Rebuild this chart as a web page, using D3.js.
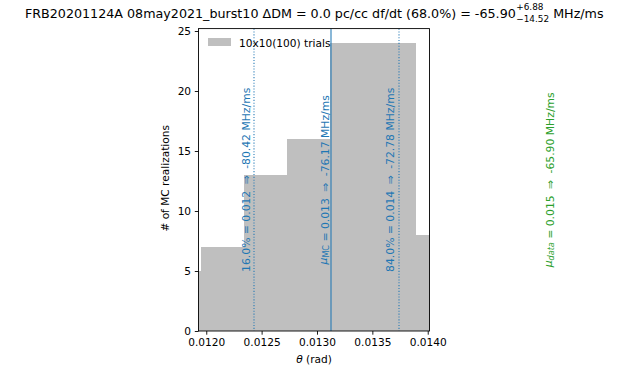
<!DOCTYPE html>
<html>
<head>
<meta charset="utf-8">
<script src="https://cdn.jsdelivr.net/npm/d3@7"></script>
<style>
  body { margin: 0; background: #fff; }
  svg text { font-family: "DejaVu Sans", sans-serif; fill: #000; white-space: pre; }
</style>
</head>
<body>
<div id="chart"></div>
<script>
// histogram of theta over MC realizations
var binEdges = [0.011567, 0.011955, 0.012343, 0.012731, 0.013119, 0.013508, 0.013896, 0.014284];
var binCounts = [5, 7, 13, 16, 24, 24, 8];

// quantile markers
var markerNames = ["16.0%", "mu", "84.0%"];
var markerTheta = [0.012427, 0.013122, 0.013736];
var markerRate = [-80.42, -76.17, -72.78];
var dataTheta = 0.01516;
var dataRate = -65.90;

var xTicks = [0.0120, 0.0125, 0.0130, 0.0135, 0.0140];
var yTicks = [0, 5, 10, 15, 20, 25];

var svgWidth = 627;
var svgHeight = 374;

// plot area in pixels
var margin = { top: 28.6, left: 198.5, right: 197.5, bottom: 43 };
var width = svgWidth - margin.left - margin.right;
var height = svgHeight - margin.top - margin.bottom;

var blue = "#1f77b4";
var green = "#2ca02c";
var fs = 10.6;
var lfs = 10.8;

// plain hyphen for negatives, like the original
var locale = d3.formatLocale({ decimal: ".", thousands: ",", grouping: [3], currency: ["", ""], minus: "-" });
var f3 = locale.format(".3f");
var f2 = locale.format(".2f");

var svg = d3.select("#chart").append("svg")
  .attr("width", svgWidth)
  .attr("height", svgHeight);

var chartGroup = svg.append("g")
  .attr("transform", `translate(${margin.left}, ${margin.top})`);

var xScale = d3.scaleLinear().domain([0.01193, 0.014016]).range([0, width]);
var yScale = d3.scaleLinear().domain([0, 25.2]).range([height, 0]);

svg.append("defs").append("clipPath").attr("id", "clip")
  .append("rect").attr("width", width).attr("height", height);

var plot = chartGroup.append("g").attr("clip-path", "url(#clip)");

// bars
plot.selectAll("rect.bar")
  .data(binCounts)
  .enter()
  .append("rect")
  .attr("class", "bar")
  .attr("x", (d, i) => xScale(binEdges[i]))
  .attr("width", (d, i) => xScale(binEdges[i + 1]) - xScale(binEdges[i]))
  .attr("y", d => yScale(d))
  .attr("height", d => yScale(0) - yScale(d))
  .attr("fill", "#bfbfbf")
  .attr("shape-rendering", "crispEdges");

// marker lines
plot.selectAll("line.marker")
  .data(markerTheta)
  .enter()
  .append("line")
  .attr("x1", d => Math.round(xScale(d)) + 0.5)
  .attr("x2", d => Math.round(xScale(d)) + 0.5)
  .attr("y1", 0)
  .attr("y2", height)
  .attr("stroke", blue)
  .attr("stroke-width", 1.05)
  .attr("stroke-dasharray", (d, i) => markerNames[i] === "mu" ? null : "1.1,1.75");

// rotated marker labels
function rotLabel(xPos, color) {
  return chartGroup.append("text")
    .attr("transform", `translate(${xPos}, ${yScale(12.6)}) rotate(-90)`)
    .attr("text-anchor", "middle")
    .style("font-size", lfs + "px")
    .style("fill", color);
}

function addRest(lab, theta, rate) {
  lab.append("tspan").text(` = ${f3(theta)} `);
  lab.append("tspan").attr("dx", 3).text("\u21D2");
  lab.append("tspan").attr("dx", 3).text(` ${f2(rate)} MHz/ms`);
}

markerTheta.forEach(function (t, i) {
  var lab = rotLabel(xScale(t) - 4, blue);
  if (markerNames[i] === "mu") {
    lab.append("tspan").style("font-style", "italic").text("\u03BC");
    lab.append("tspan").attr("dy", 2).style("font-size", (lfs * 0.75) + "px").text("MC");
    lab.append("tspan").attr("dy", -2).text("");
  } else {
    lab.append("tspan").text(markerNames[i]);
  }
  addRest(lab, t, markerRate[i]);
});

var dlab = rotLabel(xScale(dataTheta) - 4, green);
dlab.append("tspan").style("font-style", "italic").text("\u03BC");
dlab.append("tspan").attr("dy", 2).style("font-size", (lfs * 0.75) + "px").style("font-style", "italic").text("data");
dlab.append("tspan").attr("dy", -2).text("");
addRest(dlab, dataTheta, dataRate);

// axes
var bottomAxis = d3.axisBottom(xScale).tickValues(xTicks).tickFormat(d3.format(".4f"))
  .tickSize(3.7).tickPadding(3.7).tickSizeOuter(0);
var leftAxis = d3.axisLeft(yScale).tickValues(yTicks).tickFormat(d3.format("d"))
  .tickSize(3.7).tickPadding(3.7).tickSizeOuter(0);

var xAxis = chartGroup.append("g")
  .attr("transform", `translate(0, ${height})`)
  .call(bottomAxis);
var yAxis = chartGroup.append("g").call(leftAxis);

[xAxis, yAxis].forEach(function (ax) {
  ax.select(".domain").remove();
  ax.selectAll("text").style("font-size", fs + "px").style("font-family", "DejaVu Sans").attr("fill", "#000");
  ax.selectAll("line").attr("stroke", "#000").attr("stroke-width", 0.9);
});

// frame
chartGroup.append("rect")
  .attr("width", width)
  .attr("height", height)
  .attr("fill", "none")
  .attr("stroke", "#000")
  .attr("stroke-width", 0.9);

// legend
chartGroup.append("rect")
  .attr("x", 9.5)
  .attr("y", 9.4)
  .attr("width", 23)
  .attr("height", 8)
  .attr("fill", "#bfbfbf");
chartGroup.append("text")
  .attr("x", 40.5)
  .attr("y", 18.2)
  .style("font-size", fs + "px")
  .text("10x10(100) trials");

// axis labels
var xLabel = chartGroup.append("text")
  .attr("x", width / 2)
  .attr("y", height + 32)
  .attr("text-anchor", "middle")
  .style("font-size", fs + "px");
xLabel.append("tspan").style("font-style", "italic").text("\u03B8");
xLabel.append("tspan").text(" (rad)");

chartGroup.append("text")
  .attr("transform", `translate(-29.5, ${height / 2 - 1.5}) rotate(-90)`)
  .attr("text-anchor", "middle")
  .style("font-size", fs + "px")
  .text("# of MC realizations");

// title with asymmetric errors
var tfs = 12.7;
var titleMain = "FRB20201124A 08may2021_burst10 \u0394DM = 0.0 pc/cc df/dt (68.0%) = -65.90";
var titleUp = "+6.88";
var titleDown = "\u221214.52";
var titleUnit = " MHz/ms";

var tg = svg.append("g");
var t1 = tg.append("text").attr("y", 18).style("font-size", tfs + "px").text(titleMain);
var t2 = tg.append("text").attr("y", 10).style("font-size", (tfs * 0.7) + "px").text(titleUp);
var t3 = tg.append("text").attr("y", 21.5).style("font-size", (tfs * 0.7) + "px").text(titleDown);
var t4 = tg.append("text").attr("y", 18).style("font-size", tfs + "px").text(titleUnit);

var w1 = t1.node().getComputedTextLength();
var ws = Math.max(t2.node().getComputedTextLength(), t3.node().getComputedTextLength());
var w4 = t4.node().getComputedTextLength();
var x0 = margin.left + width / 2 - (w1 + ws + w4) / 2;
t1.attr("x", x0);
t2.attr("x", x0 + w1 + 0.5);
t3.attr("x", x0 + w1 + 0.5);
t4.attr("x", x0 + w1 + ws + 0.5);
</script>
</body>
</html>
